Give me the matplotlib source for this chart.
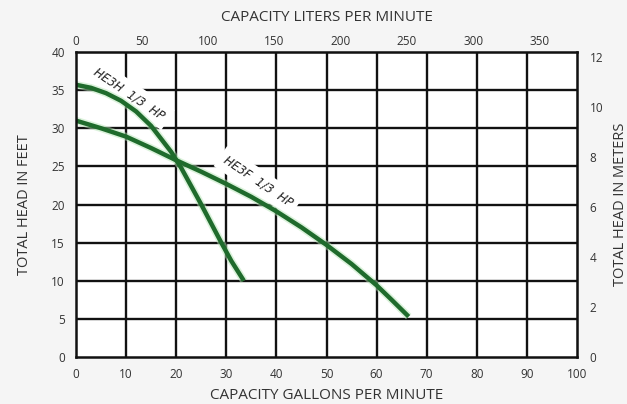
import matplotlib
matplotlib.use("Agg")
import matplotlib.pyplot as plt

# Data
he3h_gpm = [0, 3, 6, 9, 12, 15, 17, 19, 21, 23, 25, 27, 29, 31, 33.5]
he3h_ft = [35.7, 35.3, 34.6, 33.6, 32.2, 30.3, 28.6, 26.9, 24.8, 22.4, 20.0, 17.5, 15.0, 12.6, 10.0]

he3f_gpm = [0, 5, 10, 15, 20, 25, 30, 35, 40, 45, 50, 55, 60, 63, 66.4]
he3f_ft = [31.0, 30.0, 28.9, 27.4, 25.8, 24.3, 22.7, 21.0, 19.1, 17.0, 14.7, 12.2, 9.4, 7.5, 5.3]

x_ticks = [0, 10, 20, 30, 40, 50, 60, 70, 80, 90, 100]
y_ticks = [0, 5, 10, 15, 20, 25, 30, 35, 40]
lpm_ticks = [0, 50, 100, 150, 200, 250, 300, 350]
m_ticks = [0, 2, 4, 6, 8, 10, 12]

GAL_TO_L = 3.785
FT_TO_M = 0.3048

plt.rcParams['font.family'] = ['Open Sans', 'DejaVu Sans']

fig = plt.figure(figsize=(6.27, 4.04), dpi=100, facecolor='#f5f5f5')
ax = fig.add_axes([0.1212, 0.1163, 0.7991, 0.755])
ax.set_facecolor('white')
ax.set_xlim(0, 100)
ax.set_ylim(0, 40)

for x in x_ticks[1:-1]:
    ax.axvline(x, color='#111111', lw=1.7, zorder=1)
for y in y_ticks[1:-1]:
    ax.axhline(y, color='#111111', lw=1.7, zorder=1)

green = '#1f6b2c'
for gx, gy in ((he3h_gpm, he3h_ft), (he3f_gpm, he3f_ft)):
    ax.plot(gx, gy, color='#b8e6b8', lw=5.5, alpha=0.5, zorder=3,
            solid_capstyle='butt', solid_joinstyle='round')
    ax.plot(gx, gy, color=green, lw=3.2, zorder=4,
            solid_capstyle='butt', solid_joinstyle='round')

lab_kw = dict(fontsize=8.5, color='#222222', rotation=-34, rotation_mode='anchor',
              ha='center', va='center', family=['Liberation Sans Narrow', 'DejaVu Sans'],
              zorder=2, style='italic',
              bbox=dict(facecolor='white', edgecolor='none', pad=4))
ax.text(10.6, 34.5, 'HE3H  1/3  HP', **lab_kw)
ax.text(36.4, 23.0, 'HE3F  1/3  HP', **lab_kw)

txt = '#333333'
ax.set_xticks(x_ticks)
ax.set_yticks(y_ticks)
ax.tick_params(length=0, labelsize=8.5, colors=txt, pad=8)
for s in ax.spines.values():
    s.set_linewidth(1.8)
    s.set_color('#111111')
    s.set_zorder(5)

top = ax.secondary_xaxis('top', functions=(lambda g: g * GAL_TO_L, lambda l: l / GAL_TO_L))
top.set_xticks(lpm_ticks)
top.tick_params(length=0, labelsize=8.5, colors=txt, pad=3)
top.set_xlabel('CAPACITY LITERS PER MINUTE', fontsize=11, color=txt, labelpad=10)

right = ax.secondary_yaxis('right', functions=(lambda f: f * FT_TO_M, lambda m: m / FT_TO_M))
right.set_yticks(m_ticks)
right.tick_params(length=0, labelsize=8.5, colors=txt, pad=9)
right.set_ylabel('TOTAL HEAD IN METERS', fontsize=10.5, color=txt, labelpad=7)

ax.set_xlabel('CAPACITY GALLONS PER MINUTE', fontsize=11, color=txt, labelpad=5)
ax.set_ylabel('TOTAL HEAD IN FEET', fontsize=10.5, color=txt, labelpad=14)

fig.savefig('out.png', dpi=100, facecolor=fig.get_facecolor())
